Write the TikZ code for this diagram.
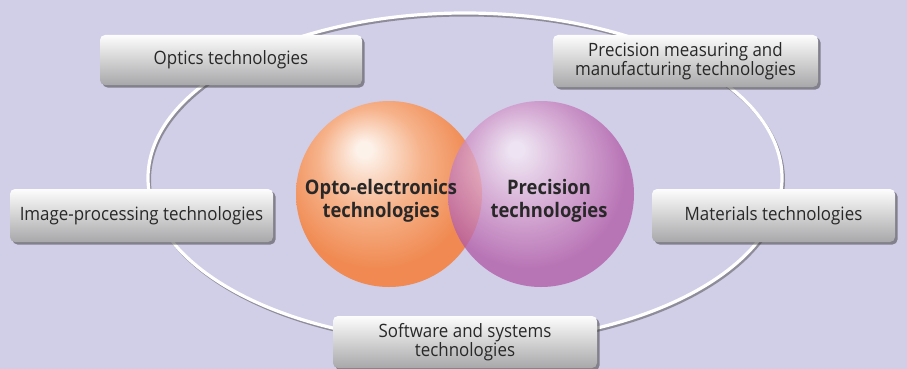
\documentclass[tikz,border=0pt]{standalone}
\usepackage{fontspec}
\setmainfont[FakeStretch=0.92]{Open Sans}
\usetikzlibrary{shadows}
\definecolor{bg}{RGB}{209,206,232}
\definecolor{txt}{RGB}{40,40,40}
\definecolor{orhi}{RGB}{253,242,234}
\definecolor{ormid}{RGB}{246,178,138}
\definecolor{orbase}{RGB}{240,138,82}
\definecolor{puhi}{RGB}{246,234,245}
\definecolor{pumid}{RGB}{214,160,206}
\definecolor{pubase}{RGB}{178,92,168}
\definecolor{boxtop}{RGB}{253,253,253}
\definecolor{boxmid}{RGB}{228,228,229}
\definecolor{boxbot}{RGB}{168,168,170}
\pgfdeclareradialshading{orangeball}{\pgfpoint{-7bp}{12.5bp}}{color(0bp)=(orhi); color(2bp)=(orhi); color(14bp)=(ormid); color(26bp)=(orbase); color(50bp)=(orbase)}
\pgfdeclareradialshading{purpleball}{\pgfpoint{-7bp}{12.5bp}}{color(0bp)=(puhi); color(2bp)=(puhi); color(14bp)=(pumid); color(26bp)=(pubase); color(50bp)=(pubase)}
\tikzset{
  techbox/.style={rectangle, rounded corners=5pt, inner sep=0pt,
    top color=boxtop, middle color=boxmid, bottom color=boxbot,
    drop shadow={shadow xshift=2.5pt, shadow yshift=-2.5pt, fill=black!75, opacity=0.55},
    text=txt, align=center, font=\fontsize{18.4}{19.5}\selectfont},
  ball/.style={circle, minimum size=186pt, inner sep=0pt},
  balltext/.style={text=txt, align=center, font=\bfseries\fontsize{20}{23}\selectfont}
}
\begin{document}
\begin{tikzpicture}[x=1pt,y=-1pt]
\fill[bg] (0,0) rectangle (907,369);
\useasboundingbox (0,0) rectangle (907,369);
% ring
\draw[black!70, line width=3pt, opacity=0.5] (466.5,180) ellipse [x radius=317, y radius=165];
\draw[white, line width=3.2pt] (465,178) ellipse [x radius=317, y radius=165];
% circles
\node[ball, shading=orangeball] (opto) at (389,194) {};
\node[ball, shading=purpleball, fill opacity=0.78] (prec) at (541,194) {};
\node[balltext] (optoT) at (381,201) {Opto-electronics\\technologies};
\node[balltext] (precT) at (549,201) {Precision\\technologies};
% boxes
\node[techbox, minimum width=262pt, minimum height=50pt] (optics) at (231,60) {Optics technologies};
\node[techbox, minimum width=265pt, minimum height=52pt] (measure) at (685.5,61) {Precision measuring and\\manufacturing technologies};
\node[techbox, minimum width=263pt, minimum height=53pt] (image) at (141.5,215.5) {Image-processing technologies};
\node[techbox, minimum width=243pt, minimum height=53pt] (materials) at (773.5,215.5) {Materials technologies};
\node[techbox, minimum width=264pt, minimum height=52pt] (software) at (465,342) {Software and systems\\technologies};
\end{tikzpicture}
\end{document}
